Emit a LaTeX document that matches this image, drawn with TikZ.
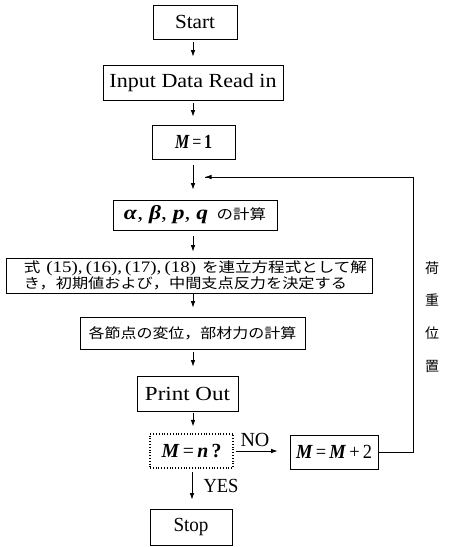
\documentclass[tikz,border=0pt]{standalone}
\usepackage{graphicx}
\usepackage{fontspec}
\setmainfont{Liberation Serif}
\newfontfamily\jp{Noto Sans CJK JP}
\usetikzlibrary{arrows.meta}
\newcommand{\fitw}[2]{\resizebox{#1}{\height}{#2}}
\newcommand{\vi}[1]{\textbf{\textit{#1}}}
\tikzset{
  box/.style={draw, line width=0.8pt, inner sep=0pt, anchor=center, font=\fontsize{20}{22}\selectfont},
  dotbox/.style={box, dotted, line width=1.1pt},
  arr/.style={-{Latex[length=6.5pt,width=4.5pt]}, line width=0.8pt},
  fb/.style={line width=0.7pt},
  lab/.style={font=\fontsize{20}{22}\selectfont, inner sep=0pt},
  jpl/.style={font=\jp\fontsize{14}{16}\selectfont, inner sep=0pt},
}
\begin{document}
\begin{tikzpicture}[x=1pt, y=-1pt]
\useasboundingbox (0,0) rectangle (449,547);
\coordinate (ax) at (193,0);
\coordinate (ay) at (192,0);
\node[box, minimum width=84pt, minimum height=34pt] (start) at (195,22) {\fitw{40pt}{Start}};
\node[box, minimum width=180pt, minimum height=35pt] (input) at (193,82.5) {\fitw{167pt}{Input Data Read in}};
\node[box, minimum width=83pt, minimum height=34pt] (m1) at (193.5,142) {\fitw{37pt}{\vi{M}\,=\,\textbf{1}}};
\node[box, minimum width=164pt, minimum height=30pt] (calc) at (195,215)
  {\fitw{142pt}{\vi{α}, \vi{β}, \vi{p}, \vi{q} {\jp\fontsize{14}{15}\selectfont\,の計算}}};
\node[box, minimum width=366pt, minimum height=35pt, align=left, font=\jp\fontsize{14}{15}\selectfont] (solve) at (189,275.5)
  {\hspace*{13pt}\fitw{343pt}{式\hspace{5pt}{\rmfamily\fontsize{16}{15}\selectfont(15),\,(16),\,(17),\,(18)}\hspace{5pt}を連立方程式として解}\\
   \hspace*{13pt}\fitw{323pt}{き，初期値および，中間支点反力を決定する}};
\node[box, minimum width=225pt, minimum height=32pt, font=\jp\fontsize{14}{16}\selectfont] (disp) at (192.5,333) {\fitw{208pt}{各節点の変位，部材力の計算}};
\node[box, minimum width=101pt, minimum height=35pt] (print) at (187.5,393.5) {\fitw{85pt}{Print Out}};
\node[dotbox, minimum width=83pt, minimum height=34pt] (cond) at (191.5,451) {\fitw{60pt}{\vi{M}\,=\,\vi{n}\,\textbf{?}}};
\node[box, minimum width=88pt, minimum height=34pt] (inc) at (334,452) {\fitw{76pt}{\vi{M}\,=\,\vi{M}\,+\,2}};
\node[box, minimum width=82pt, minimum height=36pt] (stop) at (191,527) {\fitw{35pt}{Stop}};
\coordinate (loopin) at (205,177);
\coordinate (c1) at (413,452);
\coordinate (c2) at (413,177);
\draw[arr, shorten <=3pt, shorten >=8pt] (start.south -| ax) -- (input.north -| ax);
\draw[arr, shorten <=3pt, shorten >=8pt] (input.south -| ax) -- (m1.north -| ax);
\draw[arr, shorten <=6pt, shorten >=10pt] (m1.south -| ax) -- (calc.north -| ax);
\draw[arr, shorten <=6pt, shorten >=6pt] (calc.south -| ax) -- (solve.north -| ax);
\draw[arr, shorten <=1pt, shorten >=9pt] (solve.south -| ax) -- (disp.north -| ax);
\draw[arr, shorten <=3pt, shorten >=9pt] (disp.south -| ax) -- (print.north -| ax);
\draw[arr, shorten <=2pt, shorten >=7pt] (print.south -| ax) -- (cond.north -| ax);
\draw[arr, shorten <=3pt, shorten >=9pt] (cond.south -| ay) -- (stop.north -| ay);
\draw[arr, shorten <=2pt, shorten >=12pt] (cond.east) -- (inc.west |- cond.east);
\draw[fb] (inc.east) -- (c1) -- (c2) -- (loopin);
\draw[arr, line width=0.7pt] (c2) -- (loopin);
\node[lab] (no) at (255,440) {NO};
\node[lab] (yes) at (221,486) {\fitw{35pt}{YES}};
\node[jpl] (k1) at (432,268) {荷};
\node[jpl] (k2) at (432,300) {重};
\node[jpl] (k3) at (432,333) {位};
\node[jpl] (k4) at (432,366) {置};
\end{tikzpicture}
\end{document}
